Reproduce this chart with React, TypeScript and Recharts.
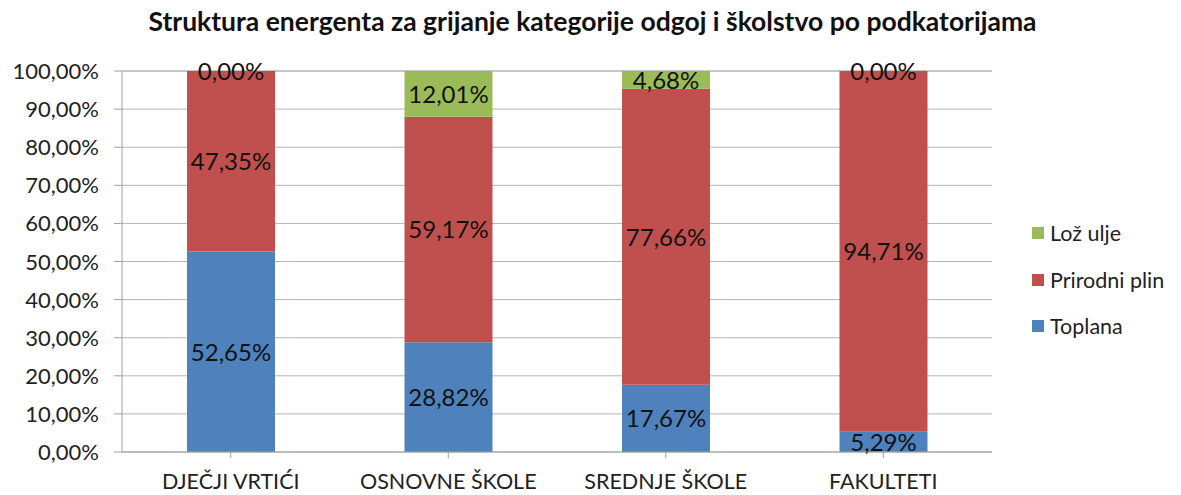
import React from "react";
import { BarChart, Bar, XAxis, YAxis, CartesianGrid, LabelList } from "recharts";

const categories = ["DJEČJI VRTIĆI", "OSNOVNE ŠKOLE", "SREDNJE ŠKOLE", "FAKULTETI"];
const toplana = [52.65, 28.82, 17.67, 5.29];
const prirodniPlin = [47.35, 59.17, 77.66, 94.71];
const lozUlje = [0.0, 12.01, 4.68, 0.0];
const yTicks = [0, 10, 20, 30, 40, 50, 60, 70, 80, 90, 100];

const series = [
    { key: "toplana", name: "Toplana", color: "#4f81bd" },
    { key: "plin", name: "Prirodni plin", color: "#c0504d" },
    { key: "ulje", name: "Lož ulje", color: "#9bbb59" },
];

const data = categories.map((name, i) => ({
    name,
    toplana: toplana[i],
    plin: prirodniPlin[i],
    ulje: lozUlje[i],
}));

const font = "Lato, 'Open Sans', sans-serif";
const fmt = (v: number) => v.toFixed(2).replace(".", ",") + "%";

const YTick = (props: any) => {
    const { x, y, payload } = props;
    return (
        <text x={x - 13} y={y} dy={8} textAnchor="end" fontSize={22} fill="#222" fontFamily={font}>
            {fmt(payload.value)}
        </text>
    );
};

const XTick = (props: any) => {
    const { x, y, payload } = props;
    return (
        <text x={x} y={y} dy={29} textAnchor="middle" fontSize={21.5} fill="#222" fontFamily={font}>
            {payload.value}
        </text>
    );
};

const labelText = (cx: number, cy: number, v: number, k: string) => (
    <text key={k} x={cx} y={cy} dy={9} textAnchor="middle" fontSize={24} fill="#111" fontFamily={font}>
        {fmt(v)}
    </text>
);

const SegLabel = (props: any) => {
    const { x, y, width, height, value, index, withZeroTop } = props;
    if (value == null) return null;
    const cx = Number(x) + Number(width) / 2;
    const out = [labelText(cx, Number(y) + Number(height) / 2, Number(value), "v")];
    // zero-height oil segments get no rectangle, so put their label on top of the gas segment
    if (withZeroTop && lozUlje[index] === 0) out.push(labelText(cx, Number(y), lozUlje[index], "z"));
    return <g>{out}</g>;
};

export default function App() {
    return (
        <div style={{ position: "absolute", top: 0, left: 0, width: 1181, height: 495, background: "#fff" }}>
            <div
                style={{
                    position: "absolute",
                    top: 5,
                    left: 4,
                    width: 1177,
                    textAlign: "center",
                    fontFamily: font,
                    fontWeight: "bold",
                    fontSize: 26.5,
                    color: "#111",
                    whiteSpace: "nowrap",
                }}
            >
                Struktura energenta za grijanje kategorije odgoj i školstvo po podkatorijama
            </div>
            <BarChart
                width={1181}
                height={495}
                data={data}
                margin={{ top: 71, right: 189, bottom: 0, left: 0 }}
                barSize={88}
            >
                <CartesianGrid vertical={false} stroke="#b5b5b5" />
                <XAxis
                    dataKey="name"
                    height={43}
                    stroke="#a0a0a0"
                    tickSize={6}
                    tick={<XTick />}
                />
                <YAxis
                    width={122}
                    domain={[0, 100]}
                    ticks={yTicks}
                    stroke="#a0a0a0"
                    tickSize={8}
                    tick={<YTick />}
                    interval={0}
                />
                {series.map((s) => (
                    <Bar key={s.key} dataKey={s.key} name={s.name} stackId="a" fill={s.color} isAnimationActive={false}>
                        <LabelList dataKey={s.key} content={<SegLabel withZeroTop={s.key === "plin"} />} />
                    </Bar>
                ))}
            </BarChart>
            <div style={{ position: "absolute", left: 1032, top: 210, fontFamily: font, fontSize: 21.5, color: "#222" }}>
                {[...series].reverse().map((s) => (
                    <div key={s.key} style={{ display: "flex", alignItems: "center", height: 46.5 }}>
                        <span style={{ width: 12, height: 12, background: s.color, marginRight: 6 }} />
                        {s.name}
                    </div>
                ))}
            </div>
        </div>
    );
}
